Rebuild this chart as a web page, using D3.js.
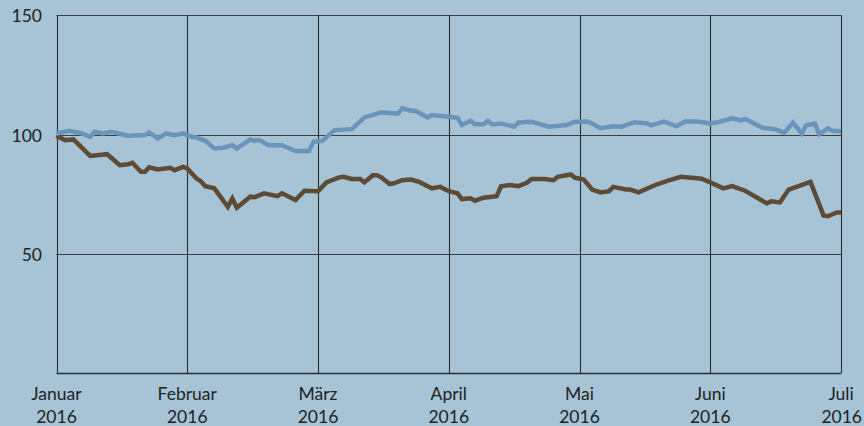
<!DOCTYPE html>
<html>
<head>
<meta charset="utf-8">
<script src="https://cdn.jsdelivr.net/npm/d3@7"></script>
<style>
  html, body { margin: 0; padding: 0; background: #a6c4d5; }
  svg { display: block; }
  text { font-family: Lato, "Noto Sans", sans-serif; fill: #222; }
</style>
</head>
<body>
<svg id="chart" width="864" height="426"></svg>
<script>
// ---- data ----
const monthTicks = ["2016-01-01","2016-02-01","2016-03-01","2016-04-01","2016-05-01","2016-06-01","2016-07-01"];
const monthLabels = ["Januar","Februar","März","April","Mai","Juni","Juli"];
const yearLabel = "2016";
const yTicks = [50, 100, 150];

const blueDates = ["2016-01-01","2016-01-04","2016-01-07","2016-01-09","2016-01-10","2016-01-12","2016-01-14","2016-01-15","2016-01-18","2016-01-22","2016-01-23","2016-01-25","2016-01-27","2016-01-29","2016-01-31",
"2016-02-02","2016-02-03","2016-02-05","2016-02-07","2016-02-09","2016-02-11","2016-02-12","2016-02-15","2016-02-16","2016-02-17","2016-02-19","2016-02-22","2016-02-25","2016-02-28","2016-02-29",
"2016-03-02","2016-03-04","2016-03-05","2016-03-09","2016-03-12","2016-03-16","2016-03-20","2016-03-21","2016-03-23","2016-03-24","2016-03-27","2016-03-28",
"2016-04-03","2016-04-04","2016-04-06","2016-04-07","2016-04-09","2016-04-10","2016-04-11","2016-04-13","2016-04-16","2016-04-17","2016-04-20","2016-04-24","2016-04-28","2016-04-30",
"2016-05-03","2016-05-06","2016-05-09","2016-05-11","2016-05-14","2016-05-17","2016-05-18","2016-05-21","2016-05-24","2016-05-26","2016-05-29",
"2016-06-01","2016-06-03","2016-06-06","2016-06-08","2016-06-09","2016-06-13","2016-06-16","2016-06-18","2016-06-20","2016-06-22","2016-06-23","2016-06-25","2016-06-26","2016-06-28","2016-06-29","2016-07-01"];
const blueValues = [100.5,101.6,100.5,99.1,101.2,100.5,101.2,100.8,99.5,99.8,100.9,98.4,100.5,99.8,100.5,
99.1,98.8,97.4,94.2,94.5,95.6,94.2,98.0,97.4,97.7,95.6,95.6,93.1,93.1,97.0,
97.4,100.5,101.9,102.3,107.2,109.3,108.9,111.0,110.0,110.0,107.2,108.2,
107.1,104.0,105.8,104.4,104.4,105.8,104.3,104.7,103.3,105.1,105.4,103.3,104.0,105.4,
105.5,102.7,103.5,103.3,105.2,104.7,103.9,105.5,103.5,105.5,105.5,
104.7,105.3,106.8,106.0,106.6,102.9,102.2,100.8,105.0,100.5,103.9,104.6,100.1,102.6,101.6,101.4];

const brownDates = ["2016-01-01","2016-01-03","2016-01-05","2016-01-09","2016-01-13","2016-01-16","2016-01-18","2016-01-19","2016-01-21","2016-01-22","2016-01-23","2016-01-25","2016-01-28","2016-01-29","2016-01-31",
"2016-02-01","2016-02-03","2016-02-04","2016-02-05","2016-02-07","2016-02-10","2016-02-11","2016-02-12","2016-02-15","2016-02-16","2016-02-18","2016-02-21","2016-02-22","2016-02-25","2016-02-27",
"2016-03-01","2016-03-03","2016-03-06","2016-03-07","2016-03-09","2016-03-11","2016-03-12","2016-03-14","2016-03-15","2016-03-16","2016-03-18","2016-03-19","2016-03-21","2016-03-23","2016-03-25","2016-03-27","2016-03-28","2016-03-30",
"2016-04-01","2016-04-03","2016-04-04","2016-04-06","2016-04-07","2016-04-09","2016-04-12","2016-04-13","2016-04-15","2016-04-17","2016-04-19","2016-04-20","2016-04-23","2016-04-25","2016-04-26","2016-04-29","2016-04-30",
"2016-05-02","2016-05-04","2016-05-06","2016-05-08","2016-05-09","2016-05-12","2016-05-13","2016-05-15","2016-05-19","2016-05-22","2016-05-25","2016-05-30",
"2016-06-01","2016-06-04","2016-06-06","2016-06-09","2016-06-14","2016-06-15","2016-06-17","2016-06-19","2016-06-24","2016-06-27","2016-06-28","2016-06-30","2016-07-01"];
const brownValues = [99.5,97.7,98.0,91.1,91.8,87.2,87.6,88.2,84.4,84.4,86.3,85.4,86.1,85.1,86.5,
85.8,81.7,80.5,78.4,77.5,69.8,73.3,69.4,74.0,73.8,75.4,74.2,75.4,72.6,76.5,
76.3,80.0,82.1,82.3,81.4,81.4,80.0,83.0,83.0,82.1,79.3,79.6,80.9,81.2,80.2,78.4,77.5,78.1,
76.3,75.4,73.0,73.3,72.3,73.6,74.2,78.4,78.9,78.4,79.9,81.4,81.4,80.9,82.3,83.3,81.9,
81.2,77.0,75.8,76.3,78.1,77.0,77.0,75.8,78.9,80.7,82.3,81.5,
80.0,77.5,78.4,76.5,71.2,72.1,71.6,77.0,80.2,66.1,65.8,67.4,67.4];

// ---- layout ----
const svg = d3.select("#chart");
const plotLeft = 56.5, plotRight = 841, plotTop = 15.3, plotBottom = 373.3;
const parse = d3.utcParse("%Y-%m-%d");
const monthDates = monthTicks.map(parse);

// each month gets equal width (piecewise time scale)
const x = d3.scaleUtc()
  .domain(monthDates)
  .range(monthDates.map((d, i) => plotLeft + i * (plotRight - plotLeft) / (monthDates.length - 1)));
const y = d3.scaleLinear().domain([0, 150]).range([plotBottom, plotTop]);

const g = svg.append("g");

// horizontal grid
g.selectAll("line.h").data(yTicks).join("line")
  .attr("x1", plotLeft).attr("x2", plotRight)
  .attr("y1", d => Math.round(y(d)) + 0.5).attr("y2", d => Math.round(y(d)) + 0.5)
  .attr("stroke", "#3a3f42").attr("stroke-width", 1.2);

// vertical grid
g.selectAll("line.v").data(monthDates).join("line")
  .attr("x1", d => Math.round(x(d)) + 0.5).attr("x2", d => Math.round(x(d)) + 0.5)
  .attr("y1", plotTop).attr("y2", plotBottom)
  .attr("stroke", "#2a2e30").attr("stroke-width", 1.1);

// bottom axis line
g.append("line")
  .attr("x1", plotLeft).attr("x2", plotRight)
  .attr("y1", Math.round(y(0)) + 0.5).attr("y2", Math.round(y(0)) + 0.5)
  .attr("stroke", "#2a2e30").attr("stroke-width", 1.3);

// y labels
g.selectAll("text.y").data(yTicks).join("text")
  .attr("x", 42).attr("y", d => y(d) + 7)
  .attr("text-anchor", "end")
  .attr("font-size", 17.5)
  .text(d => d);

// x labels
const xl = g.selectAll("g.xl").data(monthDates).join("g")
  .attr("transform", d => `translate(${x(d)},0)`);
xl.append("text").attr("y", 400).attr("text-anchor", "middle").attr("font-size", 17.5)
  .text((d, i) => monthLabels[i]);
xl.append("text").attr("y", 422.5).attr("text-anchor", (d, i) => i === monthDates.length - 1 ? "end" : "middle")
  .attr("dx", (d, i) => i === monthDates.length - 1 ? 21 : 0)
  .attr("font-size", 17.5)
  .text(yearLabel);

// lines
const line = d3.line().x(d => x(d.date)).y(d => y(d.value)).curve(d3.curveLinear);
const blue = blueDates.map((d, i) => ({date: parse(d), value: blueValues[i]}));
const brown = brownDates.map((d, i) => ({date: parse(d), value: brownValues[i]}));

g.append("path").datum(brown).attr("d", line)
  .attr("fill", "none").attr("stroke", "#5e4b36").attr("stroke-width", 4.5)
  .attr("stroke-linejoin", "miter").attr("stroke-linecap", "butt");
g.append("path").datum(blue).attr("d", line)
  .attr("fill", "none").attr("stroke", "#6a95bb").attr("stroke-width", 4.5)
  .attr("stroke-linejoin", "miter").attr("stroke-linecap", "butt");
</script>
</body>
</html>
